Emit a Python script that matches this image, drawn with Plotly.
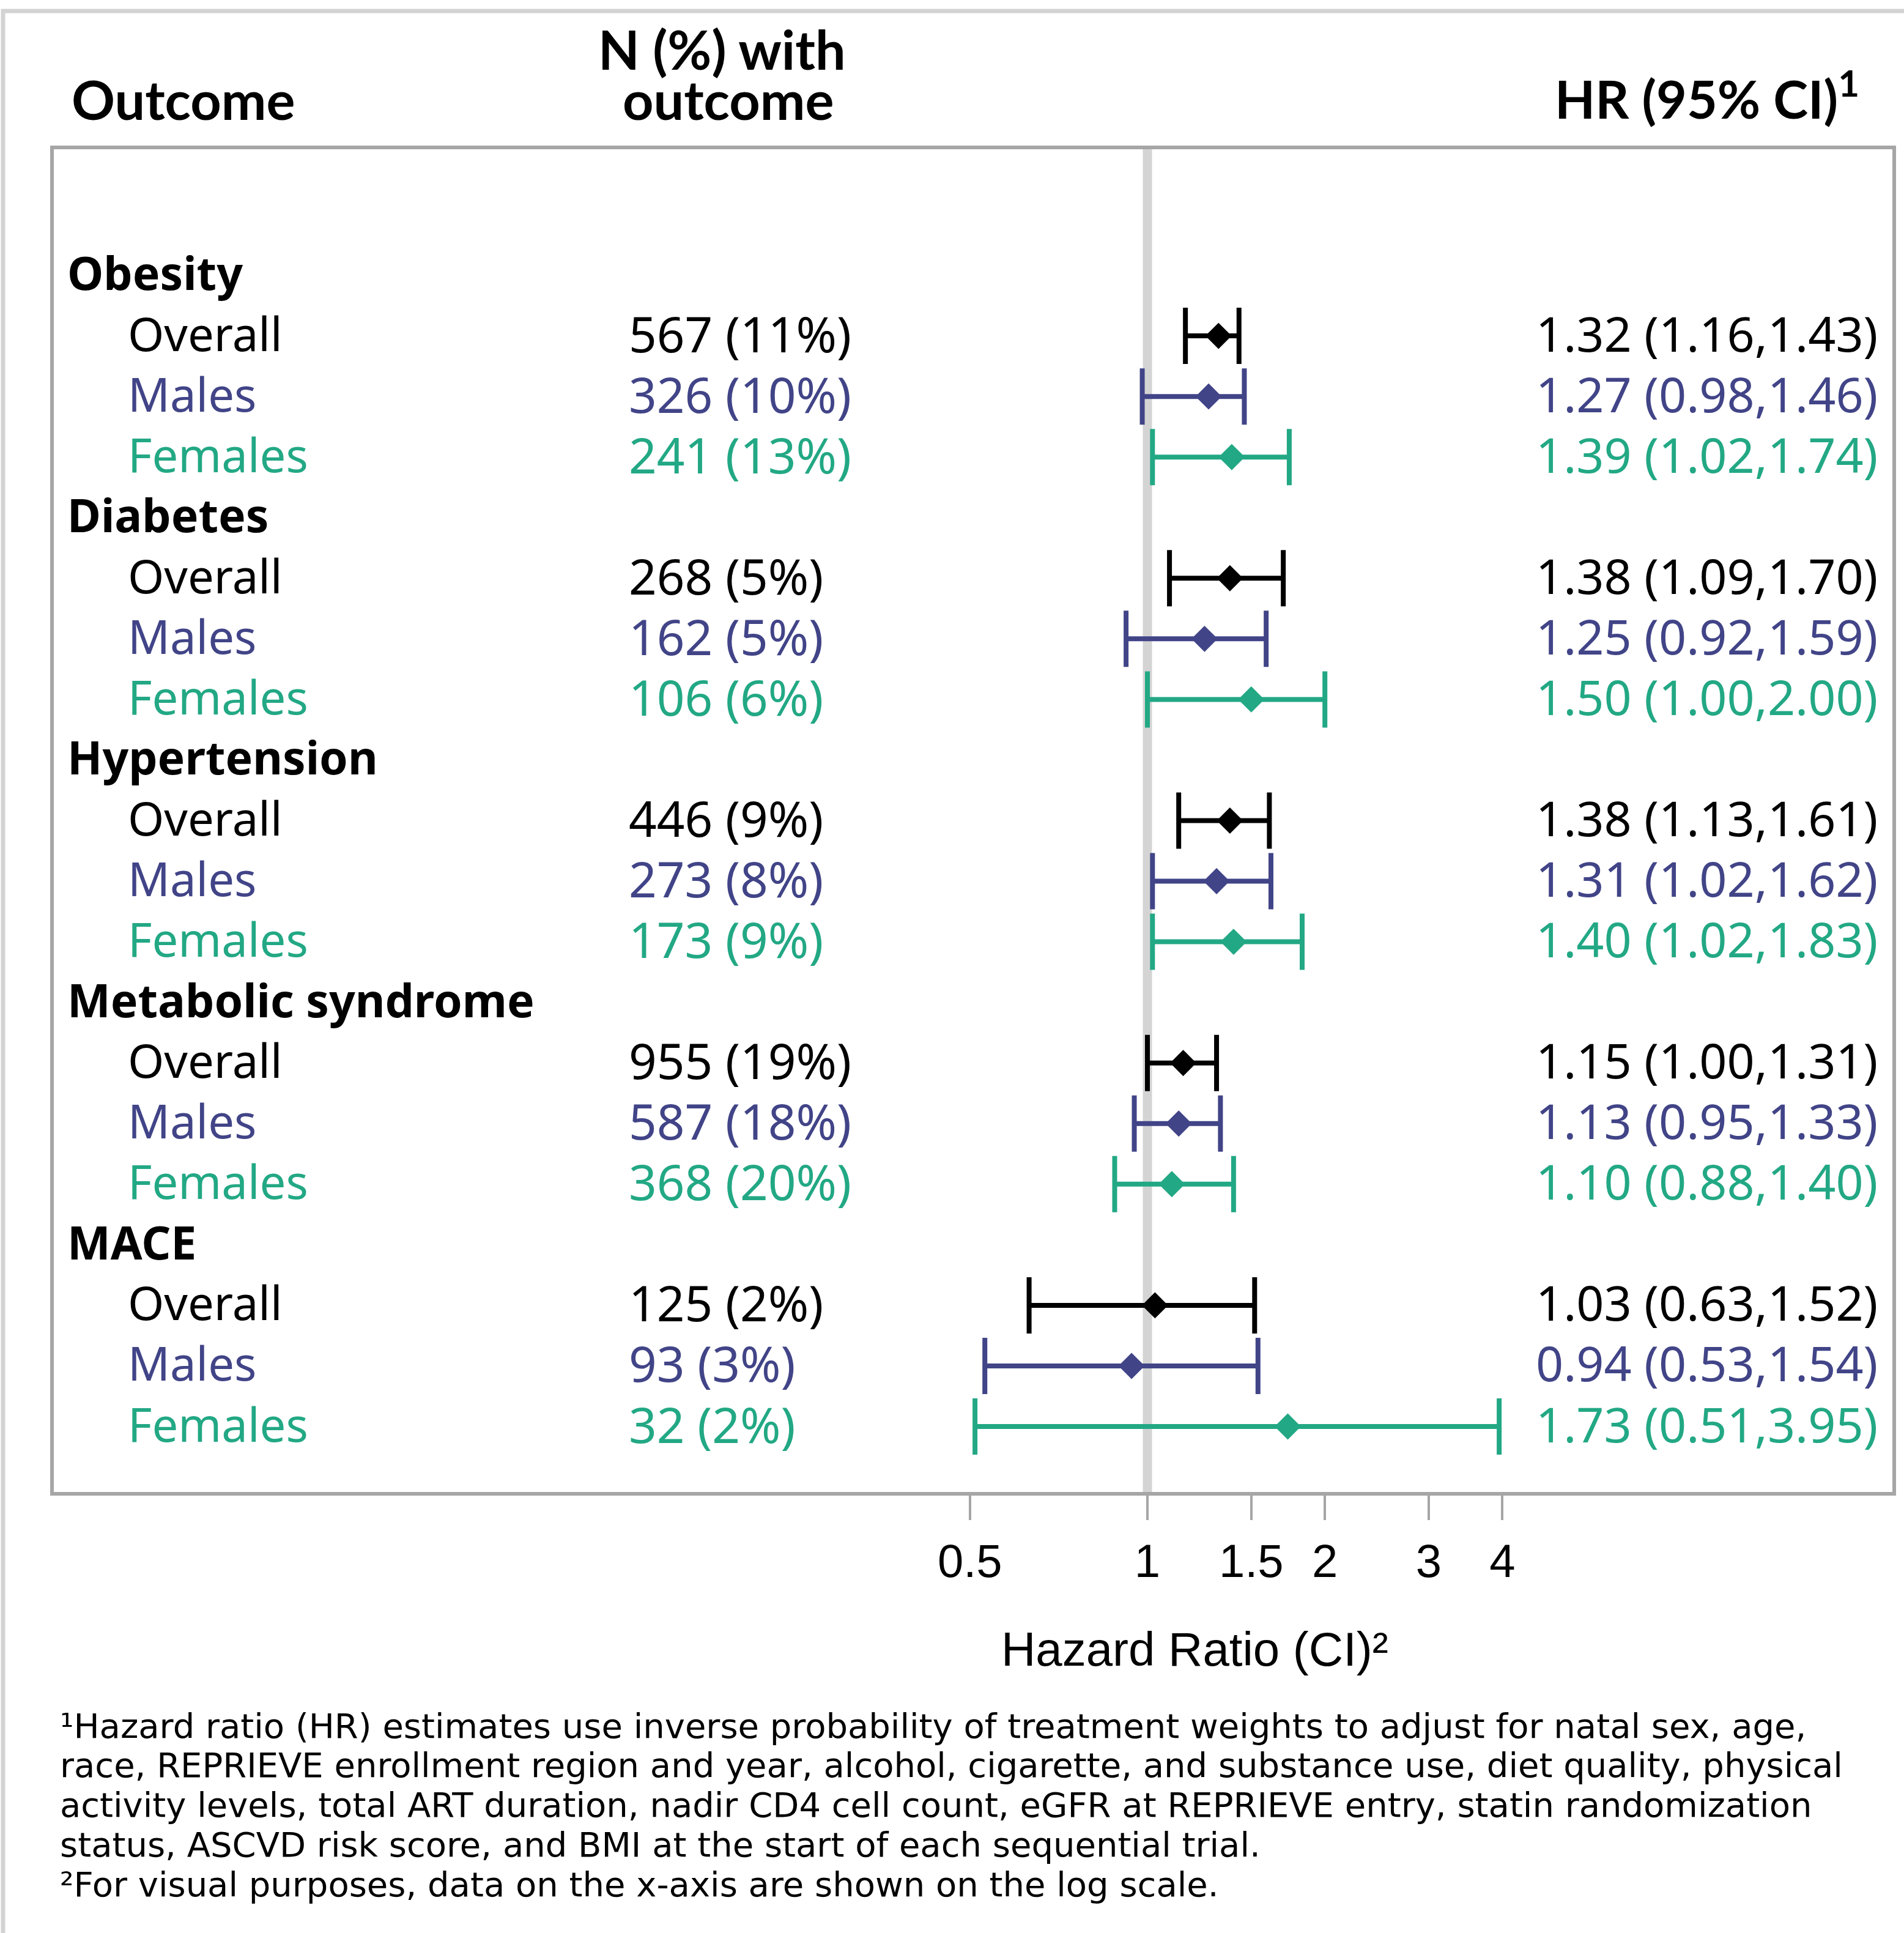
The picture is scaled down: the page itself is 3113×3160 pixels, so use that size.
import plotly.graph_objects as go

# ---------------- data ----------------
groups = ["Obesity", "Diabetes", "Hypertension", "Metabolic syndrome", "MACE"]
subgroups = ["Overall", "Males", "Females"]
n_events = [[567, 326, 241], [268, 162, 106], [446, 273, 173], [955, 587, 368], [125, 93, 32]]
pct_events = [[11, 10, 13], [5, 5, 6], [9, 8, 9], [19, 18, 20], [2, 3, 2]]
hr = [[1.32, 1.27, 1.39], [1.38, 1.25, 1.50], [1.38, 1.31, 1.40], [1.15, 1.13, 1.10], [1.03, 0.94, 1.73]]
ci_lo = [[1.16, 0.98, 1.02], [1.09, 0.92, 1.00], [1.13, 1.02, 1.02], [1.00, 0.95, 0.88], [0.63, 0.53, 0.51]]
ci_hi = [[1.43, 1.46, 1.74], [1.70, 1.59, 2.00], [1.61, 1.62, 1.83], [1.31, 1.33, 1.40], [1.52, 1.54, 3.95]]
tick_vals = [0.5, 1, 1.5, 2, 3, 4]
tick_text = ["0.5", "1", "1.5", "2", "3", "4"]
ref_value = 1

footnotes = [
    "¹Hazard ratio (HR) estimates use inverse probability of treatment weights to adjust for natal sex, age,",
    "race, REPRIEVE enrollment region and year, alcohol, cigarette, and substance use, diet quality, physical",
    "activity levels, total ART duration, nadir CD4 cell count, eGFR at REPRIEVE entry, statin randomization",
    "status, ASCVD risk score, and BMI at the start of each sequential trial.",
    "²For visual purposes, data on the x-axis are shown on the log scale.",
]

colors = ["#000000", "#414487", "#22A884"]

# ---------------- layout helpers ----------------
W, H = 3113, 3160
ML, MR, MT, MB = 88, 19, 244, 721
PW, PH = W - ML - MR, H - MT - MB


def px_x(px):
    return (px - ML) / PW


def px_y(py):
    return (H - MB - py) / PH


BODY = "Noto Sans"
HEAD = "Lato"
TSHIFT = 5

fig = go.Figure()

# reference line at HR = 1
fig.add_trace(go.Scatter(
    x=[ref_value, ref_value], y=[-5, 25], mode="lines",
    line=dict(color="#d4d4d4", width=15), hoverinfo="skip", showlegend=False,
))

annotations = []
for s, sub in enumerate(subgroups):
    xs, ys, ep, em = [], [], [], []
    for g in range(len(groups)):
        row = g * 4 + 1 + s
        xs.append(hr[g][s])
        ys.append(row)
        ep.append(ci_hi[g][s] - hr[g][s])
        em.append(hr[g][s] - ci_lo[g][s])
    fig.add_trace(go.Scatter(
        x=xs, y=ys, mode="markers",
        marker=dict(symbol="diamond", size=33, color=colors[s]),
        error_x=dict(type="data", symmetric=False, array=ep, arrayminus=em,
                     color=colors[s], thickness=8, width=46),
        showlegend=False, name=sub,
    ))

for g, grp in enumerate(groups):
    annotations.append(dict(
        x=px_x(108), xref="paper", y=g * 4, yref="y", text=grp, showarrow=False,
        xanchor="left", yanchor="middle", yshift=TSHIFT,
        font=dict(family=BODY, size=75, color="black", weight="bold"),
    ))
    for s, sub in enumerate(subgroups):
        row = g * 4 + 1 + s
        c = colors[s]
        annotations.append(dict(
            x=px_x(207), xref="paper", y=row, yref="y", text=sub, showarrow=False,
            xanchor="left", yanchor="middle", yshift=TSHIFT,
            font=dict(family=BODY, size=76, color=c),
        ))
        annotations.append(dict(
            x=px_x(1026), xref="paper", y=row, yref="y",
            text=f"{n_events[g][s]} ({pct_events[g][s]}%)", showarrow=False,
            xanchor="left", yanchor="middle", yshift=TSHIFT,
            font=dict(family=BODY, size=80, color=c),
        ))
        annotations.append(dict(
            x=px_x(3072), xref="paper", y=row, yref="y",
            text=f"{hr[g][s]:.2f} ({ci_lo[g][s]:.2f},{ci_hi[g][s]:.2f})", showarrow=False,
            xanchor="right", yanchor="middle", yshift=TSHIFT,
            font=dict(family=BODY, size=79, color=c),
        ))

# column headers
hfont = dict(family=HEAD, size=88, color="black", weight="bold")
annotations += [
    dict(x=px_x(115), xref="paper", y=px_y(162), yref="paper", text="Outcome",
         showarrow=False, xanchor="left", yanchor="middle", font=hfont),
    dict(x=px_x(1180), xref="paper", y=px_y(80), yref="paper", text="N (%) with",
         showarrow=False, xanchor="center", yanchor="middle", font=hfont),
    dict(x=px_x(1190), xref="paper", y=px_y(162), yref="paper", text="outcome",
         showarrow=False, xanchor="center", yanchor="middle", font=hfont),
    dict(x=px_x(3042), xref="paper", y=px_y(156), yref="paper", text="HR (95% CI)<sup>1</sup>",
         showarrow=False, xanchor="right", yanchor="middle",
         font=dict(family=HEAD, size=86, color="black", weight="bold")),
    dict(x=px_x(1953), xref="paper", y=px_y(2696), yref="paper", text="Hazard Ratio (CI)²",
         showarrow=False, xanchor="center", yanchor="middle",
         font=dict(family="Liberation Sans", size=78, color="black")),
]

foot_y = [2821, 2885, 2950, 3015, 3080]
for line, fy in zip(footnotes, foot_y):
    annotations.append(dict(
        x=px_x(96), xref="paper", y=px_y(fy), yref="paper", text=line, showarrow=False,
        xanchor="left", yanchor="middle",
        font=dict(family="DejaVu Sans", size=56, color="black"),
    ))

shapes = [dict(
    type="rect", xref="paper", yref="paper",
    x0=px_x(5), x1=px_x(3400), y0=px_y(3400), y1=px_y(18),
    line=dict(color="#d3d3d3", width=7), fillcolor="rgba(0,0,0,0)", layer="below",
)]

fig.update_layout(
    width=W, height=H,
    margin=dict(l=ML, r=MR, t=MT, b=MB, pad=0),
    paper_bgcolor="white", plot_bgcolor="white",
    showlegend=False,
    annotations=annotations,
    shapes=shapes,
    xaxis=dict(
        type="log", range=[-1.8548, 1.2635],
        tickvals=tick_vals, ticktext=tick_text,
        ticks="outside", ticklen=40, tickwidth=4, tickcolor="#a6a6a6",
        tickfont=dict(family="Liberation Sans", size=76, color="black"),
        ticklabelstandoff=2,
        showgrid=False, zeroline=False,
        showline=True, mirror=True, linecolor="#a6a6a6", linewidth=6,
    ),
    yaxis=dict(
        range=[20.08, -2.08], showticklabels=False, ticks="",
        showgrid=False, zeroline=False,
        showline=True, mirror=True, linecolor="#a6a6a6", linewidth=6,
    ),
)

fig.write_html(
    "out.html",
    config={"displayModeBar": False},
    post_script="document.body.style.margin='0px';document.body.style.overflow='hidden';",
)
